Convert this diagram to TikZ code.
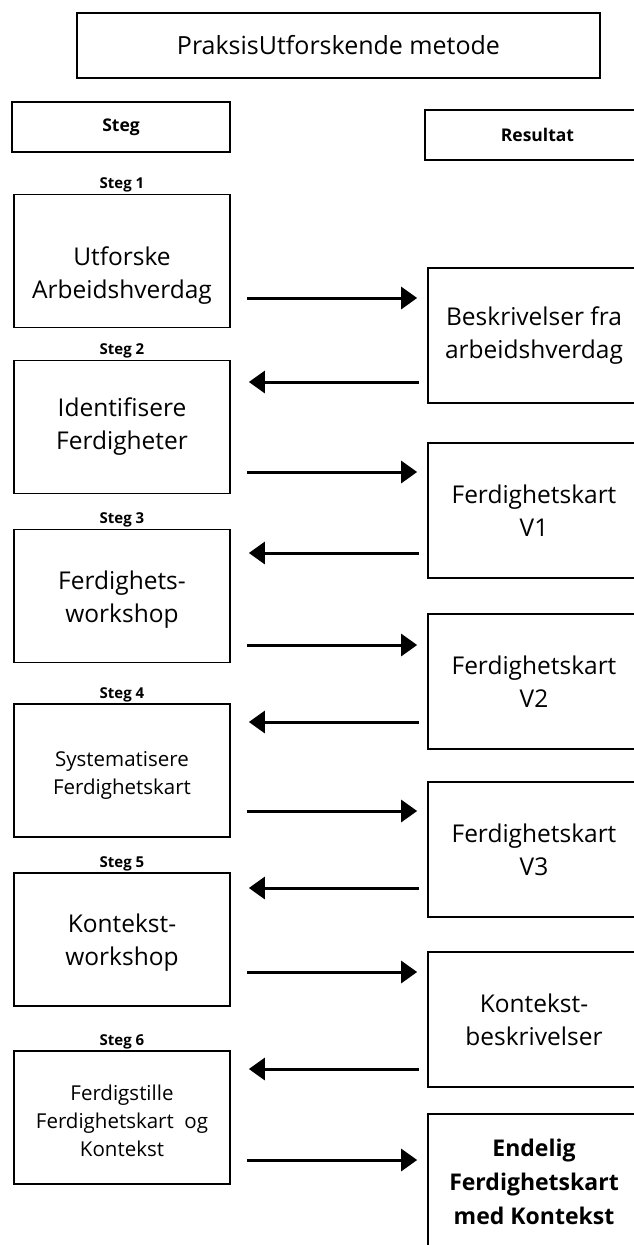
\documentclass[tikz,border=0pt]{standalone}
\usepackage{fontspec}
\setmainfont{Open Sans}
\usetikzlibrary{arrows.meta}

\newcommand{\padtop}[1]{\rule{0pt}{#1pt}}

\tikzset{
  box/.style={draw, line width=1.7pt, align=center, inner sep=2pt},
  big/.style={font=\fontsize{24.5}{33}\selectfont},
  small/.style={font=\fontsize{20.5}{28}\selectfont},
  boldbig/.style={font=\bfseries\fontsize{23}{34}\selectfont},
  head/.style={font=\bfseries\fontsize{17.5}{20}\selectfont},
  steglbl/.style={font=\bfseries\fontsize{15}{17}\selectfont},
  arr/.style={line width=3pt, -{Triangle[length=16pt,width=22pt]}},
}

\begin{document}
\begin{tikzpicture}[x=1pt,y=-1pt]
  \useasboundingbox (0,0) rectangle (634,1245);
  \clip (0,0) rectangle (634,1245);

  % heading
  \node[box, font=\fontsize{25}{30}\selectfont, minimum width=523pt, minimum height=65pt] (tittel) at (338.5,45.5) {PraksisUtforskende metode};
  \node[box, head, minimum width=218pt, minimum height=50pt] (steg) at (121,127) {Steg};
  \node[box, head, minimum width=225pt, minimum height=50pt] (resultat) at (537.5,135) {Resultat};

  % steps, left column
  \foreach \i/\y/\f/\txt in {1/261/big/{\padtop{48}Utforske\\Arbeidshverdag},
                            2/427/big/{Identifisere\\Ferdigheter},
                            3/596/big/{\padtop{26}Ferdighets-\\workshop},
                            4/770.5/small/{\padtop{24}Systematisere\\Ferdighetskart},
                            5/939.5/big/{\padtop{25}Kontekst-\\workshop},
                            6/1117.5/small/{\padtop{23}Ferdigstille\\Ferdighetskart\ \ og\\Kontekst}}
  {
    \node[box, \f, minimum width=216pt, minimum height=133pt] (s\i) at (122,\y) {\txt};
    \node[steglbl] (l\i) at (122,\y-76) {Steg \i};
  }

  % results, right column
  \foreach \i/\y/\f/\txt in {1/335.5/big/{Beskrivelser fra\\arbeidshverdag},
                            2/510.5/big/{Ferdighetskart\\V1},
                            3/681.5/big/{Ferdighetskart\\V2},
                            4/849.5/big/{Ferdighetskart\\V3},
                            5/1019.5/big/{Kontekst-\\beskrivelser},
                            6/1181.5/boldbig/{Endelig\\Ferdighetskart\\med Kontekst}}
    \node[box, \f, minimum width=212pt, minimum height=135pt] (r\i) at (534,\y) {\txt};

  % arrows
  \foreach \i/\y in {1/298,2/472,3/645,4/811,5/972,6/1160}
    \draw[arr, shorten <=16pt, shorten >=10pt] (s\i.east |- 0,\y) -- (r\i.west |- 0,\y);
  \foreach \i/\j/\y in {1/2/382,2/3/553,3/4/722,4/5/888,5/6/1069}
    \draw[arr, shorten <=8pt, shorten >=18pt] (r\i.west |- 0,\y) -- (s\j.east |- 0,\y);
\end{tikzpicture}
\end{document}
